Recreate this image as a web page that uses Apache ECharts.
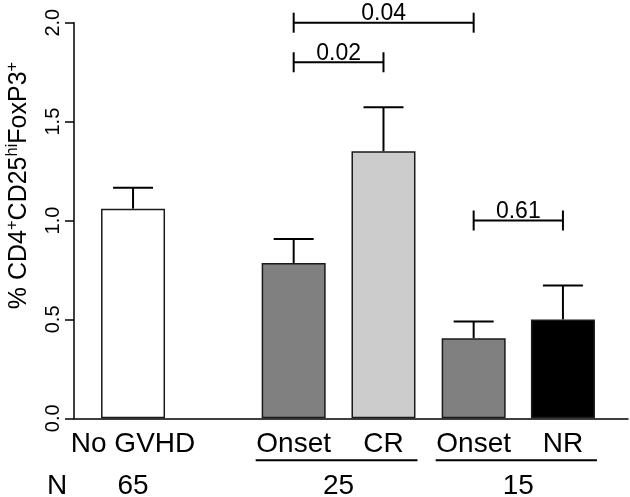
<!DOCTYPE html>
<html><head><meta charset="utf-8">
<script src="https://cdn.jsdelivr.net/npm/echarts@6/dist/echarts.min.js"></script>
<style>html,body{margin:0;padding:0;background:#fff}#c{width:630px;height:497px}</style>
</head><body><div id="c"></div>
<script>
// ---- data ----
const categories = ['No GVHD', 'Onset', 'CR', 'Onset', 'NR'];
const means = [1.06, 0.785, 1.35, 0.405, 0.50];
const errors = [0.105, 0.122, 0.222, 0.084, 0.171];
const groupN = ['65', '25', '15'];
const groupMembers = [[0], [1, 2], [3, 4]];
const nHeader = 'N';
const pValues = ['0.04', '0.02', '0.61'];
const pPairs = [[1, 3], [1, 2], [3, 4]];
const pLevels = [2.0, 1.8, 1.0];
const yTicks = [0, 0.5, 1.0, 1.5, 2.0];

// ---- layout / style ----
const xPos = [0.656, 2.441, 3.439, 4.441, 5.433];
const barColors = ['#ffffff', '#808080', '#cccccc', '#808080', '#000000'];
const FONT = 'Liberation Sans, Arial, sans-serif';

const chart = echarts.init(document.getElementById('c'), null, {renderer: 'canvas'});

const option = {
  animation: false,
  backgroundColor: '#fff',
  grid: {left: 74, right: 2, top: 22.7, bottom: 78.7, containLabel: false, outerBoundsMode: 'none'},
  xAxis: {
    type: 'value', min: 0, max: 6.156,
    axisLine: {show: true, lineStyle: {color: '#000', width: 1.5}},
    axisTick: {show: false}, axisLabel: {show: false}, splitLine: {show: false}
  },
  yAxis: {
    type: 'value', min: yTicks[0], max: yTicks[yTicks.length - 1], interval: yTicks[1] - yTicks[0],
    axisLine: {show: true, lineStyle: {color: '#000', width: 1.5}},
    axisTick: {show: true, length: 9, lineStyle: {color: '#000', width: 1.5}},
    axisLabel: {show: false},
    splitLine: {show: false},
    name: '{m|% CD4}{s|+}{m|CD25}{s|hi}{m|FoxP3}{s|+}',
    nameLocation: 'middle', nameRotate: 90, nameGap: 40,
    nameTextStyle: {
      padding: [0, 0, 0, 70],
      rich: {
        m: {fontSize: 25, fontFamily: FONT, color: '#000', lineHeight: 30},
        s: {fontSize: 16.5, fontFamily: FONT, color: '#000', verticalAlign: 'top', lineHeight: 16}
      }
    }
  },
  series: [
    {
      type: 'bar', barWidth: 64,
      data: means.map((m, i) => ({value: [xPos[i], m], itemStyle: {color: barColors[i]}})),
      itemStyle: {borderColor: '#1a1a1a', borderWidth: 1.5},
      z: 2
    },
    {
      // y tick labels, rotated
      type: 'custom', z: 3,
      data: yTicks.map(v => [0, v]),
      renderItem: (params, api) => {
        const p = api.coord([0, api.value(1)]);
        return {type: 'text', x: p[0] - 21, y: p[1], rotation: Math.PI / 2,
          style: {text: api.value(1).toFixed(1), fontSize: 20, fontFamily: FONT, fill: '#000',
            align: 'center', verticalAlign: 'middle'}};
      }
    },
    {
      type: 'custom', z: 3,
      data: means.map((m, i) => [xPos[i], m, errors[i]]),
      renderItem: (params, api) => {
        const x = api.value(0), m = api.value(1), e = api.value(2);
        const a = api.coord([x, m]), b = api.coord([x, m + e]);
        const st = {stroke: '#000', lineWidth: 2};
        return {type: 'group', children: [
          {type: 'line', shape: {x1: a[0], y1: a[1], x2: b[0], y2: b[1]}, style: st},
          {type: 'line', shape: {x1: b[0] - 20, y1: b[1], x2: b[0] + 20, y2: b[1]}, style: st}
        ]};
      }
    },
    {
      type: 'custom', z: 3,
      data: pPairs.map((p, i) => [xPos[p[0]], xPos[p[1]], pLevels[i]]),
      renderItem: (params, api) => {
        const a = api.coord([api.value(0), api.value(2)]);
        const b = api.coord([api.value(1), api.value(2)]);
        const st = {stroke: '#000', lineWidth: 2};
        return {type: 'group', children: [
          {type: 'line', shape: {x1: a[0], y1: a[1], x2: b[0], y2: b[1]}, style: st},
          {type: 'line', shape: {x1: a[0], y1: a[1] - 10, x2: a[0], y2: a[1] + 10}, style: st},
          {type: 'line', shape: {x1: b[0], y1: b[1] - 10, x2: b[0], y2: b[1] + 10}, style: st},
          {type: 'text', x: (a[0] + b[0]) / 2, y: a[1] - 9,
            style: {text: pValues[params.dataIndex], fontSize: 23, fontFamily: FONT, fill: '#000',
              align: 'center', verticalAlign: 'middle'}}
        ]};
      }
    },
    {
      type: 'custom', z: 3,
      data: categories.map((c, i) => [xPos[i], 0]),
      renderItem: (params, api) => {
        const p = api.coord([api.value(0), 0]);
        return {type: 'text', x: p[0], y: p[1] + 26,
          style: {text: categories[params.dataIndex], fontSize: 28, fontFamily: FONT, fill: '#000',
            align: 'center', verticalAlign: 'middle'}};
      }
    },
    {
      type: 'custom', z: 3,
      data: groupMembers.map(g => [xPos[g[0]], xPos[g[g.length - 1]]]),
      renderItem: (params, api) => {
        const a = api.coord([api.value(0), 0]);
        const b = api.coord([api.value(1), 0]);
        const children = [
          {type: 'text', x: (a[0] + b[0]) / 2, y: a[1] + 68,
            style: {text: groupN[params.dataIndex], fontSize: 28, fontFamily: FONT, fill: '#000',
              align: 'center', verticalAlign: 'middle'}}
        ];
        if (groupMembers[params.dataIndex].length > 1) {
          children.push({type: 'line', shape: {x1: a[0] - 38, y1: a[1] + 42, x2: b[0] + 34, y2: b[1] + 42},
            style: {stroke: '#000', lineWidth: 2}});
        }
        return {type: 'group', children};
      }
    }
  ],
  graphic: [
    {type: 'text', left: 47, top: 472,
      style: {text: nHeader, fontSize: 28, fontFamily: FONT, fill: '#000'}}
  ]
};
chart.setOption(option);
</script>
</body></html>
